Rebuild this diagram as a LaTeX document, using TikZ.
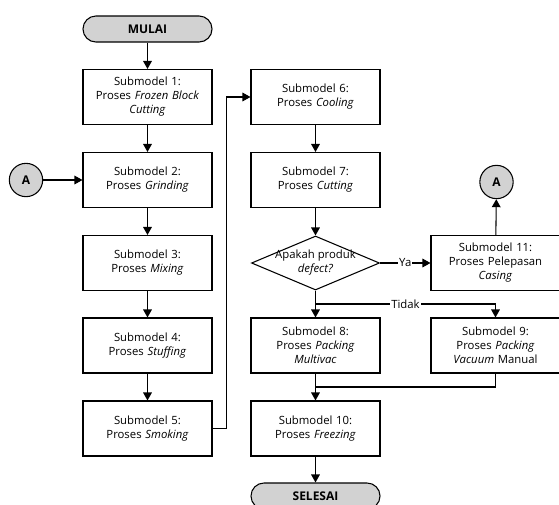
\documentclass[tikz,border=0pt]{standalone}
\usepackage{fontspec}
\setmainfont{Open Sans}
\usetikzlibrary{calc, arrows.meta, shapes.geometric}

\definecolor{termgray}{RGB}{210,210,210}

\begin{document}
\begin{tikzpicture}[x=0.75pt, y=-0.75pt, >={Triangle[length=6pt, width=6.5pt]},
  font=\fontsize{8.5}{10.5}\selectfont]

  % Styles for the flowchart blocks
  \tikzset{
    proc/.style={draw, line width=0.8pt, minimum width=96.75pt, minimum height=41.25pt,
      text width=94pt, align=center, inner sep=0pt},
    term/.style={draw, line width=0.8pt, fill=termgray, rounded corners=9.7pt,
      minimum width=96.75pt, minimum height=19.5pt, inner sep=0pt,
      font=\fontsize{9}{10}\selectfont\bfseries},
    connA/.style={draw, circle, line width=0.8pt, fill=termgray, minimum size=25pt,
      inner sep=0pt, font=\fontsize{9}{10}\selectfont\bfseries},
    decide/.style={draw, diamond, line width=0.8pt, aspect=2.4, minimum width=96pt,
      minimum height=40.5pt, inner xsep=-12pt, inner ysep=-2pt, align=center},
    flow/.style={->, line width=0.8pt},
    lbl/.style={fill=white, inner sep=0.8pt}
  }

  \useasboundingbox (0,0) rectangle (559,504);

  % 1. Left column
  \node[term] (mulai) at (147.5,29) {MULAI};
  \node[proc] (sm1) at (147.5,97) {Submodel 1:\\Proses \textit{Frozen Block}\\\textit{Cutting}};
  \node[proc] (sm2) at (147.5,180) {Submodel 2:\\Proses \textit{Grinding}};
  \node[proc] (sm3) at (147.5,263) {Submodel 3:\\Proses \textit{Mixing}};
  \node[proc] (sm4) at (147.5,345.5) {Submodel 4:\\Proses \textit{Stuffing}};
  \node[proc] (sm5) at (147.5,428.5) {Submodel 5:\\Proses \textit{Smoking}};
  \node[connA] (conA1) at (26,180) {A};

  % 2. Middle column
  \node[proc] (sm6) at (315.5,97) {Submodel 6:\\Proses \textit{Cooling}};
  \node[proc] (sm7) at (315.5,180) {Submodel 7:\\Proses \textit{Cutting}};
  \node[decide] (cek) at (315.5,263) {Apakah produk\\\textit{defect?}};
  \node[proc] (sm8) at (315.5,345.5) {Submodel 8:\\Proses \textit{Packing}\\\textit{Multivac}};
  \node[proc] (sm10) at (315.5,428.5) {Submodel 10:\\Proses \textit{Freezing}};
  \node[term] (selesai) at (315.5,496) {SELESAI};

  % 3. Right column
  \node[connA] (conA2) at (496.5,182) {A};
  \node[proc] (sm11) at (495.5,263) {Submodel 11:\\Proses Pelepasan\\\textit{Casing}};
  \node[proc] (sm9) at (495.5,345.5) {Submodel 9:\\Proses \textit{Packing}\\\textit{Vacuum} Manual};

  % junction points between the rows
  \coordinate (pisah) at ($(cek.south)!0.5!(sm8.north)$);
  \coordinate (gabung) at ($(sm8.south)!0.5!(sm10.north)$);

  % --- DRAWING LINES ---
  \draw[flow] (mulai) -- (sm1);
  \draw[flow] (sm1) -- (sm2);
  \draw[flow] (sm2) -- (sm3);
  \draw[flow] (sm3) -- (sm4);
  \draw[flow] (sm4) -- (sm5);
  \draw[flow] (conA1) -- (sm2);
  \draw[flow] (sm5.east) -- ++(14,0) |- (sm6.west);

  \draw[flow] (sm6) -- (sm7);
  \draw[flow] (sm7) -- (cek);
  \draw[flow] (cek) -- node[lbl] {Ya} (sm11);
  \draw[flow] (sm11) -- (conA2);
  \draw[flow] (cek.south) -- (sm8);
  \draw[flow] (pisah) -| node[lbl, pos=0.25] {Tidak} (sm9.north);
  \draw[flow] (sm8) -- (sm10);
  \draw[line width=0.8pt] (sm9.south) |- (gabung);
  \draw[flow] (sm10) -- (selesai);

\end{tikzpicture}
\end{document}
